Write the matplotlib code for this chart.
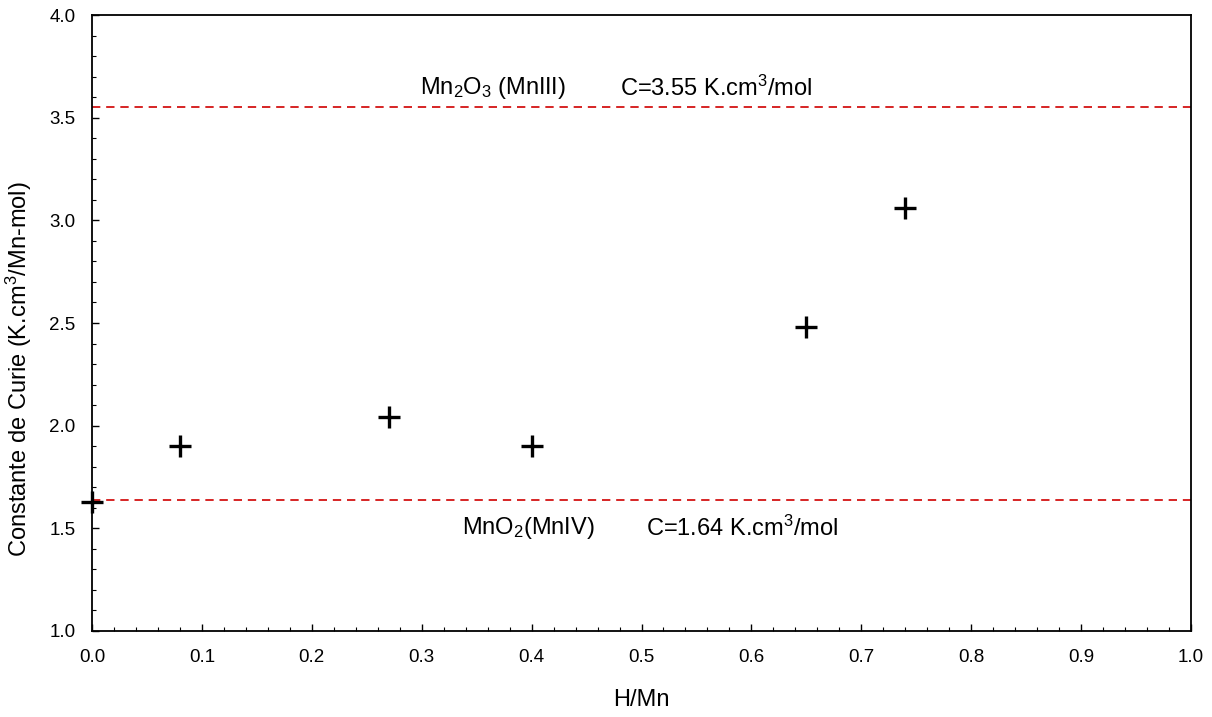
import matplotlib
matplotlib.use("Agg")
import matplotlib.pyplot as plt
from matplotlib.ticker import MultipleLocator

plt.rcParams['font.family'] = ['Liberation Sans', 'DejaVu Sans']
plt.rcParams['mathtext.fontset'] = 'custom'
plt.rcParams['mathtext.rm'] = 'Liberation Sans'
plt.rcParams['mathtext.it'] = 'Liberation Sans'
plt.rcParams['mathtext.bf'] = 'Liberation Sans'

# measured points
h_mn = [0.0, 0.08, 0.27, 0.40, 0.65, 0.74]
curie = [1.63, 1.90, 2.04, 1.90, 2.48, 3.06]

# reference levels
c_mn3 = 3.55
c_mn4 = 1.64

fig = plt.figure(figsize=(12.12, 7.17), dpi=100)
ax = fig.add_axes([0.0759, 0.12, 0.9068, 0.859])

ax.axhline(c_mn3, color='#d00000', linestyle=(0, (5, 3.5)), linewidth=1.2, zorder=1)
ax.axhline(c_mn4, color='#d00000', linestyle=(0, (5, 3.5)), linewidth=1.2, zorder=1)
ax.plot(h_mn, curie, linestyle='none', marker='+', color='black',
        markersize=16, markeredgewidth=2.4, zorder=3, clip_on=False)

fs = 17
ax.text(0.298, 3.645, r'Mn$_\mathregular{2}$O$_\mathregular{3}$ (MnIII)', fontsize=fs, va='center', ha='left')
ax.text(0.480, 3.645, r'C=3.55 K.cm$^\mathregular{3}$/mol', fontsize=fs, va='center', ha='left')
ax.text(0.337, 1.5, r'MnO$_\mathregular{2}$(MnIV)', fontsize=fs, va='center', ha='left')
ax.text(0.504, 1.5, r'C=1.64 K.cm$^\mathregular{3}$/mol', fontsize=fs, va='center', ha='left')

ax.set_xlim(0, 1)
ax.set_ylim(1, 4)
ax.xaxis.set_major_locator(MultipleLocator(0.1))
ax.xaxis.set_minor_locator(MultipleLocator(0.02))
ax.yaxis.set_major_locator(MultipleLocator(0.5))
ax.yaxis.set_minor_locator(MultipleLocator(0.1))
ax.xaxis.set_major_formatter(plt.FormatStrFormatter('%.1f'))
ax.yaxis.set_major_formatter(plt.FormatStrFormatter('%.1f'))
ax.tick_params(which='major', direction='in', length=5, width=1, labelsize=13.5)
ax.tick_params(axis='y', which='major', pad=12)
ax.tick_params(axis='x', which='major', pad=13)
ax.tick_params(which='minor', direction='in', length=3, width=0.8)

for s in ax.spines.values():
    s.set_linewidth(1.3)

ax.set_xlabel('H/Mn', fontsize=17)
ax.set_ylabel(r'Constante de Curie (K.cm$^\mathregular{3}$/Mn-mol)', fontsize=17)
ax.xaxis.set_label_coords(0.5, -0.094)
ax.yaxis.set_label_coords(-0.053, 0.4245)

fig.savefig('out.png', dpi=100)
